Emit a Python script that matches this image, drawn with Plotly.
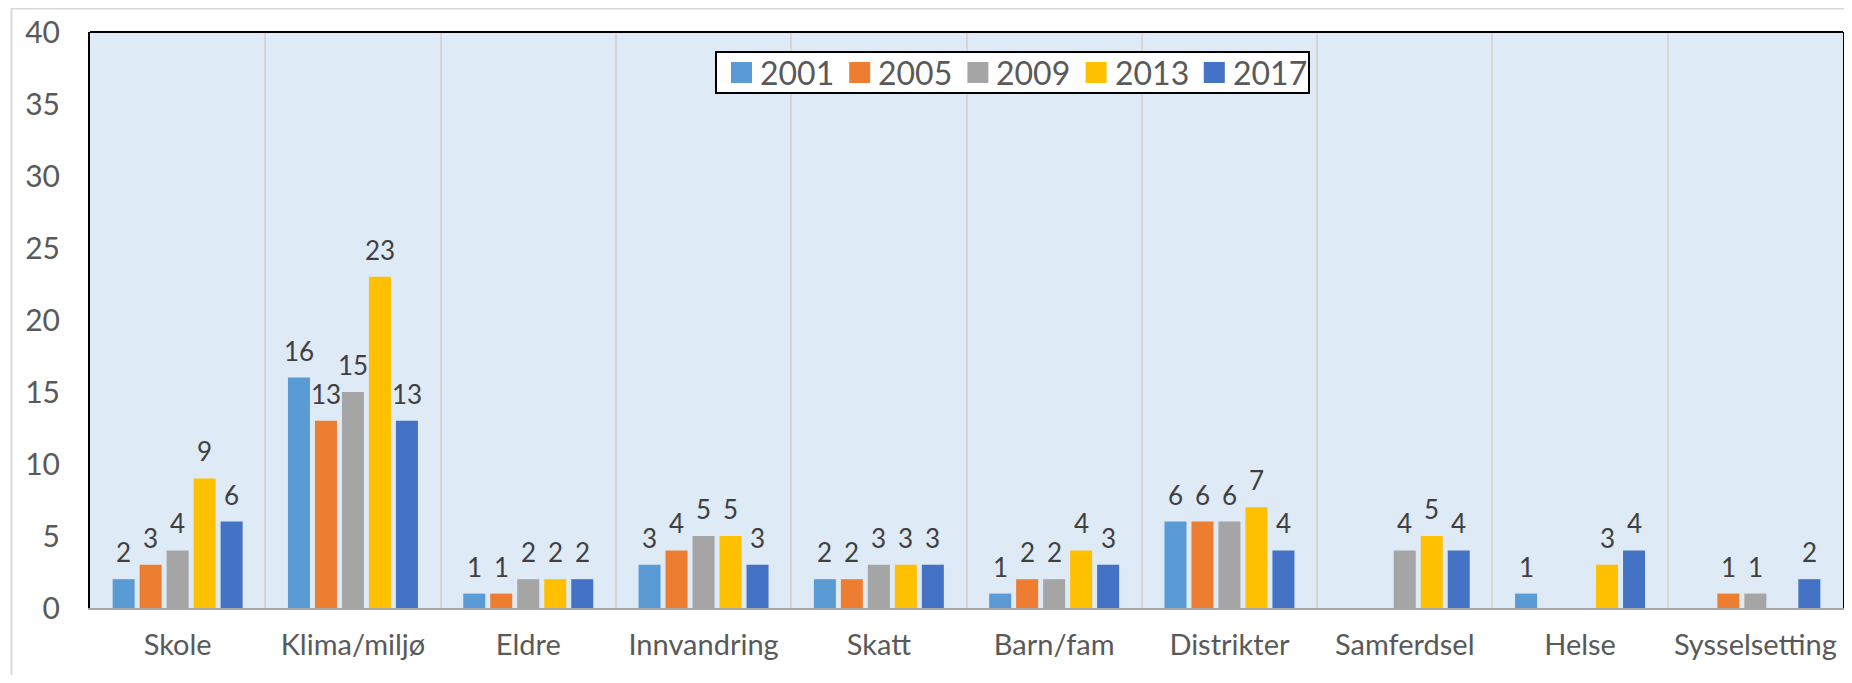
import plotly.graph_objects as go

categories = ["Skole", "Klima/miljø", "Eldre", "Innvandring", "Skatt",
              "Barn/fam", "Distrikter", "Samferdsel", "Helse", "Sysselsetting"]
years = ["2001", "2005", "2009", "2013", "2017"]
v2001 = [2, 16, 1, 3, 2, 1, 6, None, 1, None]
v2005 = [3, 13, 1, 4, 2, 2, 6, None, None, 1]
v2009 = [4, 15, 2, 5, 3, 2, 6, 4, None, 1]
v2013 = [9, 23, 2, 5, 3, 4, 7, 5, 3, None]
v2017 = [6, 13, 2, 3, 3, 3, 4, 4, 4, 2]
series = [v2001, v2005, v2009, v2013, v2017]
colors = ["#5B9BD5", "#ED7D31", "#A5A5A5", "#FFC000", "#4472C4"]

# page body has an 8px margin; figure is sized to fill the window exactly
OFF = 8
W, H = 1852 - 2 * OFF, 683 - 2 * OFF
L, T = 90 - OFF, 32 - OFF
PR, PB = 1843 - OFF, 608 - OFF
R, B = W - PR, H - PB
pw, ph = PR - L, PB - T

BARGAP = 0.23
NSER = len(series)

fig = go.Figure()
annotations = []
for si, (yr, vals, c) in enumerate(zip(years, series, colors)):
    fig.add_trace(go.Bar(
        name=yr, x=categories, y=vals,
        marker=dict(color=c, line=dict(width=0)),
        showlegend=False, hoverinfo="x+y+name",
    ))
    # value labels above each bar, positioned on the category axis scale
    slot = (1 - BARGAP) / NSER
    for ci, v in enumerate(vals):
        if v is None:
            continue
        annotations.append(dict(
            x=ci + (si - (NSER - 1) / 2) * slot, y=v, xref="x", yref="y",
            text=str(v), showarrow=False, xanchor="center", yanchor="bottom",
            yshift=9, font=dict(size=26, color="#404040", family="Lato")))

def px_x(p):
    return (p - OFF - L) / pw

def px_y(p):
    return (PB - (p - OFF)) / ph

shapes = [
    dict(type="line", xref="paper", yref="paper", x0=0, x1=1, y0=1, y1=1,
         line=dict(color="black", width=2)),
    dict(type="line", xref="paper", yref="paper", x0=px_x(11.5), x1=px_x(11.5),
         y0=px_y(8), y1=px_y(700), line=dict(color="#D9D9D9", width=2)),
    dict(type="line", xref="paper", yref="paper", x0=px_x(11.5), x1=px_x(1900),
         y0=px_y(8.5), y1=px_y(8.5), line=dict(color="#D9D9D9", width=2)),
    # legend box
    dict(type="rect", xref="paper", yref="paper", x0=px_x(716), x1=px_x(1309),
         y0=px_y(52), y1=px_y(93), fillcolor="white", line=dict(color="black", width=2)),
]
for i, (yr, c) in enumerate(zip(years, colors)):
    sx = 731 + 118.2 * i
    shapes.append(dict(type="rect", xref="paper", yref="paper",
                       x0=px_x(sx), x1=px_x(sx + 21), y0=px_y(62), y1=px_y(83),
                       fillcolor=c, line=dict(width=0)))
    annotations.append(dict(text=yr, xref="paper", yref="paper", x=px_x(sx + 27),
                            y=px_y(72.5), xanchor="left", yanchor="middle",
                            showarrow=False, font=dict(size=32, color="#595959", family="Lato")))

fig.update_layout(
    width=W, height=H,
    margin=dict(l=L, r=R, t=T, b=B, autoexpand=False),
    paper_bgcolor="white", plot_bgcolor="#DEEAF6",
    barmode="group", bargap=BARGAP, bargroupgap=0.185,
    font=dict(family="Lato", color="#595959"),
    showlegend=False,
    shapes=shapes, annotations=annotations,
    xaxis=dict(tickson="boundaries", showgrid=True, gridcolor="#D6D6D6", gridwidth=2,
               ticks="", showline=True, linecolor="#A6A6A6", linewidth=2, tickangle=0,
               tickfont=dict(size=29, color="#595959"), ticklabelstandoff=10),
    yaxis=dict(range=[0, 40], dtick=5, showgrid=False, zeroline=False,
               showline=True, mirror=True, linecolor="black", linewidth=2,
               ticks="", tickfont=dict(size=30, color="#595959"), ticklabelstandoff=22),
)

fig.write_html("out.html")
